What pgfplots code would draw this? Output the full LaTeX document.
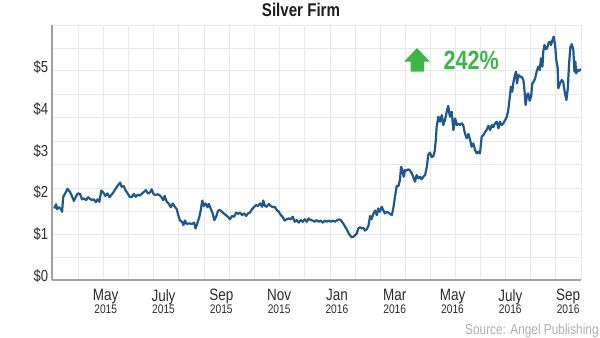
\documentclass[border=0pt]{standalone}
\usepackage{pgfplots}
\pgfplotsset{compat=1.18}
\usepackage{fontspec}
\setmainfont[FakeStretch=0.82]{Liberation Sans}
\definecolor{gridc}{RGB}{232,232,232}
\definecolor{axisgray}{RGB}{160,160,160}
\definecolor{lineblue}{RGB}{30,88,142}
\definecolor{upgreen}{RGB}{60,182,74}
\definecolor{labc}{RGB}{45,45,45}
\definecolor{titlec}{RGB}{30,30,30}
\definecolor{srcc}{RGB}{175,175,175}
\newcommand\yr[1]{{\fontsize{12.5}{17}\selectfont #1}}
\begin{document}
\begin{tikzpicture}
\useasboundingbox (0,0) rectangle (600bp,338bp);
\fill[white] (0,0) rectangle (600bp,338bp);
\begin{axis}[
  at={(52.3bp,58bp)}, anchor=south west,
  scale only axis, width=528.7bp, height=255bp,
  xmin=-1.848, xmax=16.446, ymin=-0.096, ymax=6.019,
  axis x line*=bottom, axis y line*=left,
  axis line style={draw=axisgray, line width=2bp},
  xtick={0,2,...,16}, ytick={0,1,2,3,4,5},
  xticklabels={{May\\[-4.4pt]\yr{2015}},{July\\[-4.4pt]\yr{2015}},{Sep\\[-4.4pt]\yr{2015}},{Nov\\[-4.4pt]\yr{2015}},{Jan\\[-4.4pt]\yr{2016}},{Mar\\[-4.4pt]\yr{2016}},{May\\[-4.4pt]\yr{2016}},{July\\[-4.4pt]\yr{2016}},{Sep\\[-4.4pt]\yr{2016}}},
  yticklabels={\$0,\$1,\$2,\$3,\$4,\$5},
  major tick length=0, minor tick length=0,
  minor xtick={-0.934,-0.069,0.796,1.661,2.536,3.412,4.277,5.156,6.021,6.872,7.761,8.626,9.491,10.367,11.232,12.097,12.962,13.841,14.706,15.571,16.446},
  minor ytick={0.439,1.000,1.542,2.103,2.679,3.237,3.796,4.357,4.916,5.460,6.019},
  xminorgrids=true, yminorgrids=true,
  minor grid style={draw=gridc, line width=1bp},
  xticklabel style={align=center, font=\fontsize{16.5}{17}\selectfont, text=labc, inner sep=0pt, yshift=-9bp},
  yticklabel style={font=\fontsize{16}{16}\selectfont, text=labc, inner sep=0pt, xshift=-4bp},
]
\addplot[color=lineblue, line width=2.2bp, line join=round] coordinates {
(-1.78,1.62)(-1.72,1.72)(-1.68,1.60)(-1.62,1.65)(-1.55,1.61)(-1.51,1.54)(-1.47,1.90)(-1.41,1.97)(-1.32,2.09)(-1.24,2.02)(-1.17,1.92)(-1.10,1.80)(-1.04,1.89)(-0.97,1.98)(-0.89,1.97)(-0.82,1.84)(-0.75,1.86)(-0.68,1.82)(-0.61,1.89)(-0.54,1.85)(-0.47,1.82)(-0.41,1.84)(-0.34,1.77)(-0.28,1.84)(-0.22,1.78)(-0.15,2.05)(-0.08,2.00)(-0.01,1.92)(0.06,1.98)(0.13,1.89)(0.19,1.94)(0.26,2.00)(0.33,2.08)(0.43,2.18)(0.50,2.24)(0.55,2.14)(0.62,2.16)(0.69,2.05)(0.76,1.98)(0.83,1.90)(0.90,1.89)(0.97,1.97)(1.04,1.90)(1.11,1.95)(1.19,1.93)(1.26,1.98)(1.33,2.02)(1.39,2.06)(1.46,1.98)(1.53,2.00)
(1.59,2.08)(1.65,1.97)(1.72,1.94)(1.79,1.96)(1.86,1.94)(1.92,1.90)(1.99,1.82)(2.04,1.92)(2.11,1.78)(2.18,1.74)(2.25,1.65)(2.32,1.74)(2.39,1.66)(2.46,1.60)(2.51,1.46)(2.57,1.33)(2.64,1.30)(2.69,1.22)(2.74,1.33)(2.80,1.25)(2.89,1.26)(2.98,1.25)(3.06,1.28)(3.11,1.14)(3.17,1.26)(3.24,1.42)(3.29,1.58)(3.34,1.81)(3.40,1.68)(3.46,1.74)(3.52,1.65)(3.57,1.73)(3.63,1.62)(3.70,1.50)(3.76,1.34)(3.82,1.42)(3.89,1.57)(3.96,1.58)(4.02,1.54)(4.09,1.50)(4.16,1.46)(4.23,1.42)(4.30,1.36)(4.37,1.44)(4.44,1.42)(4.51,1.52)(4.58,1.49)(4.65,1.52)(4.72,1.46)(4.79,1.50)(4.86,1.44)(4.92,1.50)(4.99,1.52)
(5.06,1.60)(5.13,1.65)(5.20,1.70)(5.27,1.68)(5.34,1.74)(5.41,1.66)(5.45,1.81)(5.51,1.68)(5.57,1.66)(5.64,1.73)(5.71,1.68)(5.78,1.65)(5.85,1.66)(5.92,1.58)(5.99,1.54)(6.06,1.46)(6.13,1.41)(6.19,1.33)(6.26,1.36)(6.33,1.38)(6.40,1.36)(6.47,1.42)(6.54,1.30)(6.61,1.34)(6.68,1.28)(6.75,1.34)(6.82,1.30)(6.89,1.36)(6.96,1.30)(7.02,1.38)(7.09,1.34)(7.16,1.33)(7.23,1.30)(7.30,1.34)(7.37,1.30)(7.44,1.33)(7.51,1.28)(7.58,1.33)(7.65,1.30)(7.72,1.33)(7.79,1.30)(7.86,1.33)(7.92,1.30)(7.99,1.33)(8.06,1.36)(8.13,1.34)(8.20,1.28)(8.27,1.20)(8.34,1.12)(8.41,1.02)(8.45,0.98)
(8.51,0.93)(8.57,0.94)(8.63,0.98)(8.69,1.02)(8.74,1.14)(8.80,1.17)(8.86,1.14)(8.91,1.16)(8.97,1.09)(9.03,1.12)(9.09,1.20)(9.15,1.44)(9.20,1.36)(9.26,1.49)(9.32,1.57)(9.38,1.46)(9.43,1.62)(9.49,1.54)(9.55,1.66)(9.61,1.57)(9.66,1.50)(9.72,1.54)(9.78,1.52)(9.84,1.49)(9.90,1.46)(9.95,1.62)(10.01,1.90)(10.07,2.16)(10.13,2.16)(10.18,2.30)(10.22,2.62)(10.26,2.56)(10.31,2.38)(10.36,2.54)(10.42,2.53)(10.47,2.56)(10.53,2.53)(10.59,2.46)(10.64,2.38)(10.70,2.26)(10.76,2.42)(10.82,2.34)(10.88,2.38)(10.93,2.32)(10.99,2.38)(11.05,2.42)(11.11,2.61)(11.16,2.90)(11.22,2.96)(11.28,2.85)(11.34,2.88)(11.39,3.02)
(11.43,3.34)(11.45,3.57)(11.51,3.82)(11.57,3.70)(11.63,3.86)(11.68,3.62)(11.74,3.74)(11.80,3.94)(11.85,4.08)(11.91,3.82)(11.97,3.94)(12.03,3.50)(12.09,3.78)(12.15,3.62)(12.20,3.65)(12.26,3.62)(12.32,3.66)(12.37,3.62)(12.43,3.42)(12.49,3.30)(12.55,3.41)(12.61,3.26)(12.66,3.10)(12.72,3.18)(12.78,3.02)(12.84,2.94)(12.89,2.98)(12.95,2.94)(13.01,3.34)(13.07,3.38)(13.13,3.46)(13.18,3.50)(13.24,3.60)(13.30,3.50)(13.36,3.62)(13.41,3.57)(13.47,3.66)(13.53,3.70)(13.59,3.54)(13.64,3.70)(13.70,3.62)(13.76,3.66)(13.82,3.74)
(13.88,3.82)(13.93,3.98)(13.99,4.34)(14.02,4.54)(14.07,4.42)(14.10,4.62)(14.16,4.82)(14.20,4.90)(14.23,4.62)(14.28,4.82)(14.34,4.78)(14.39,4.78)(14.45,4.70)(14.48,4.54)(14.53,4.10)(14.58,4.34)(14.62,4.38)(14.67,4.20)(14.72,4.30)(14.76,4.62)(14.81,4.66)(14.86,4.74)(14.91,4.90)(14.97,5.02)(15.02,4.94)(15.06,5.22)(15.11,5.02)(15.14,5.38)(15.18,5.54)(15.23,5.44)(15.27,5.46)(15.32,5.58)(15.36,5.62)(15.41,5.54)(15.45,5.64)(15.50,5.74)(15.55,5.54)(15.59,5.18)(15.64,4.98)(15.66,4.50)(15.72,4.62)(15.78,4.70)(15.83,4.66)(15.89,4.38)(15.94,4.22)(15.99,4.50)(16.03,5.06)(16.08,5.50)(16.13,5.56)(16.18,5.42)(16.22,4.90)(16.25,5.14)(16.28,4.86)(16.33,4.94)(16.38,4.92)(16.45,4.96)
};
\end{axis}
\fill[upgreen] (417bp,290bp) -- (430bp,276.3bp) -- (424bp,276.3bp) -- (424bp,266.3bp) -- (410.7bp,266.3bp) -- (410.7bp,276.3bp) -- (404bp,276.3bp) -- cycle;
\node[anchor=base west, inner sep=0pt, text=upgreen, font=\fontsize{26.5}{26.5}\selectfont\bfseries] at (443.3bp,268.7bp) {242\%};
\node[anchor=base, inner sep=0pt, text=titlec, font=\fontsize{18.5}{18.5}\selectfont\bfseries] at (301bp,321.3bp) {Silver Firm};
\node[anchor=base west, inner sep=0pt, text=srcc, font=\fontsize{14.5}{14.5}\selectfont] at (465bp,4bp) {Source: Angel Publishing};
\end{tikzpicture}
\end{document}
